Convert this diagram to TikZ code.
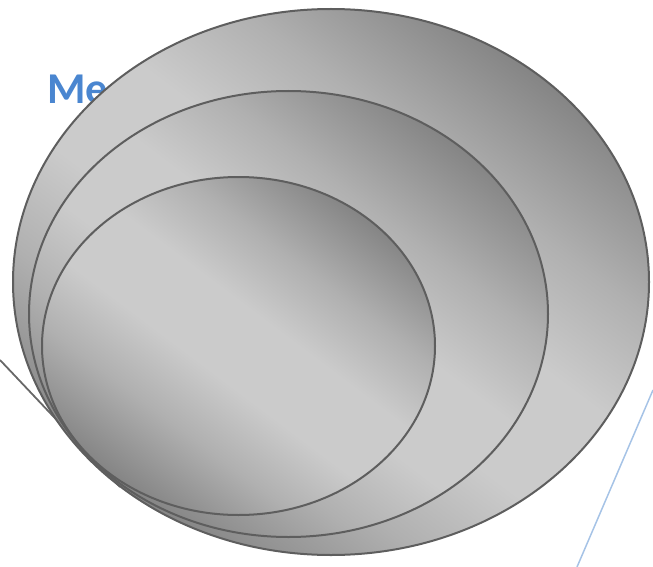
\documentclass[tikz,border=0pt]{standalone}
\usepackage{fontspec}
\setmainfont{Carlito}
\usetikzlibrary{shapes.geometric}
\definecolor{shdark}{HTML}{848484}
\definecolor{shmid}{HTML}{B0B0B0}
\definecolor{shlight}{HTML}{CBCBCB}
\definecolor{rimgray}{HTML}{5E5E5E}
\definecolor{titleblue}{HTML}{4A86D0}
\definecolor{lineblue}{HTML}{A6C3E6}
\definecolor{linegray}{HTML}{686868}
\pgfdeclareverticalshading{reflgray}{100bp}{color(0bp)=(shdark); color(25bp)=(shdark); color(36bp)=(shmid); color(45bp)=(shlight); color(55bp)=(shlight); color(64bp)=(shmid); color(75bp)=(shdark); color(100bp)=(shdark)}
\tikzset{
  ball/.style={ellipse, draw=rimgray, line width=2pt, inner sep=0pt,
    shading=reflgray, shading angle=-37},
  title/.style={text=titleblue, font=\bfseries\fontsize{44}{48}\selectfont, anchor=base west, inner sep=0pt},
}
\begin{document}
\begin{tikzpicture}[x=1pt,y=-1pt]
\useasboundingbox (0,0) rectangle (653,567);
\node[title] (me) at (47,104) {Me};
\coordinate (gA) at (0,360);
\coordinate (gB) at (120,487);
\draw[linegray, line width=1.8pt] (gA) -- (gB);
\node[ball, minimum width=636pt, minimum height=546pt] (outer) at (331,282) {};
\node[ball, minimum width=519pt, minimum height=446pt] (middle) at (288.5,314) {};
\node[ball, minimum width=393pt, minimum height=338pt] (inner) at (238.5,346) {};
\coordinate (bA) at (653,390);
\coordinate (bB) at (577,567);
\draw[lineblue, line width=1.5pt] (bA) -- (bB);
\end{tikzpicture}
\end{document}
